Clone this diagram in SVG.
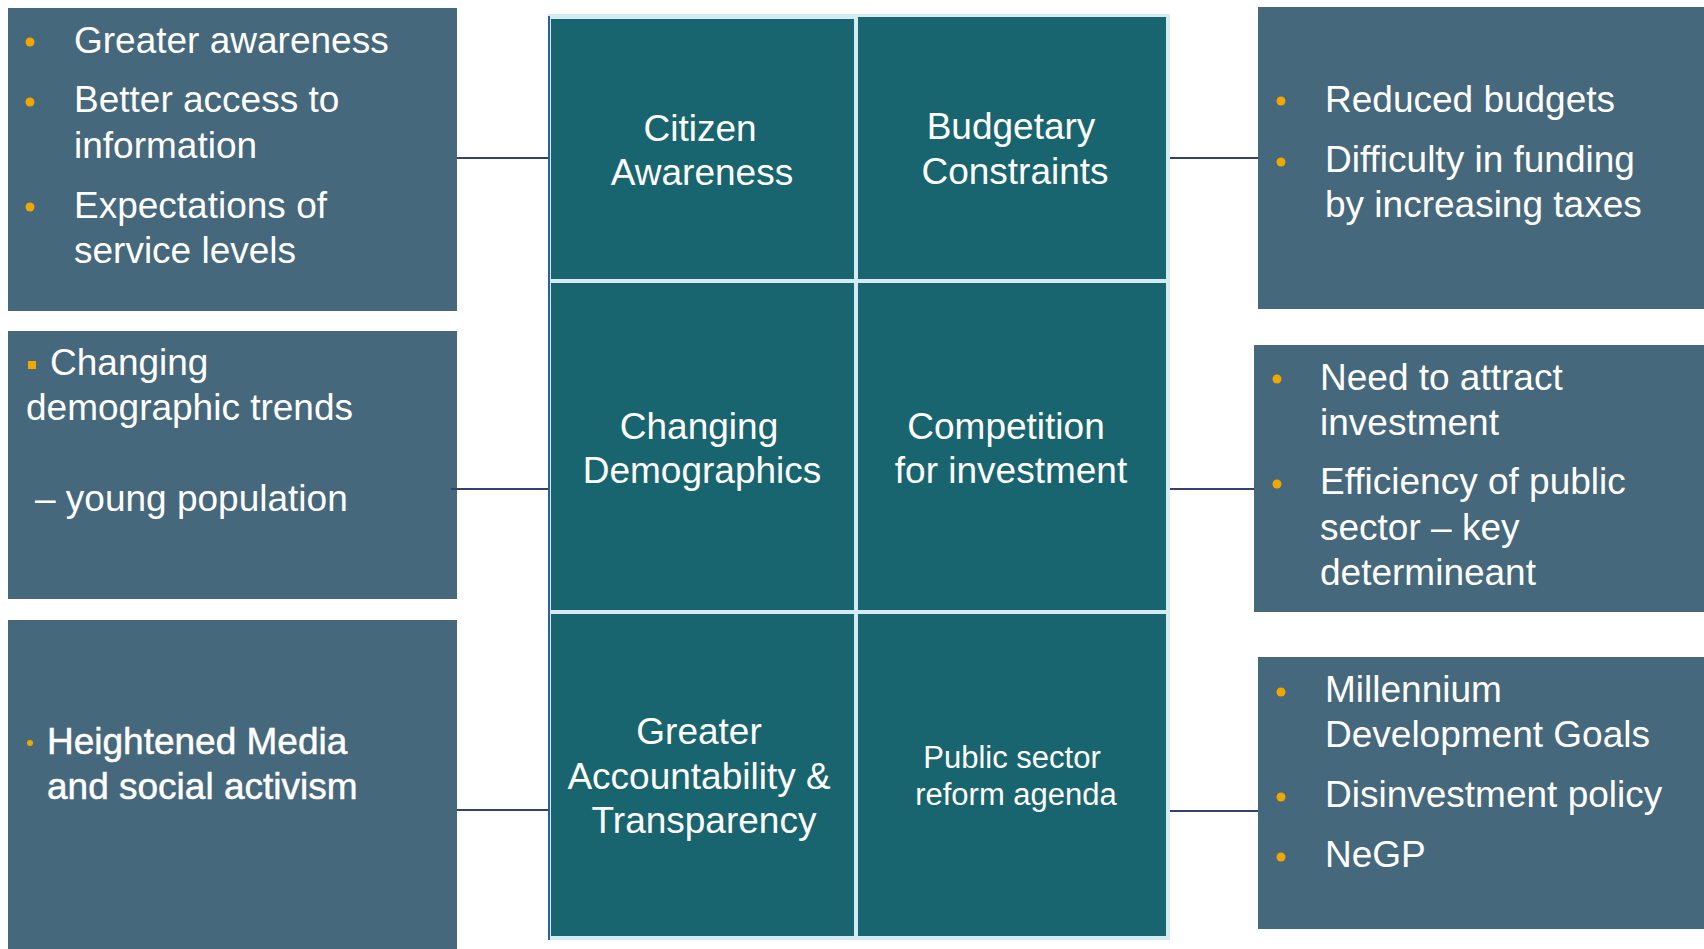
<svg xmlns="http://www.w3.org/2000/svg" width="1704" height="949" viewBox="0 0 1704 949">
<style>
.box{fill:#46687C}
.cell{fill:#19656F}
.t{font-family:"Liberation Sans",Arial,sans-serif;font-size:37px;fill:#FFFFFF}
.c{text-anchor:middle}
.s{font-size:31px}
.b{fill:#F0A800}
.conn{stroke:#34406E;stroke-width:2;fill:none}
</style>
<rect width="1704" height="949" fill="#FFFFFF"/>

<g id="left-1">
<rect class="box" x="8" y="8" width="449" height="303"/>
<circle class="b" cx="30" cy="42" r="4.5"/>
<circle class="b" cx="30" cy="102" r="4.5"/>
<circle class="b" cx="30" cy="207" r="4.5"/>
<text class="t" x="74" y="53">Greater awareness</text>
<text class="t" x="74" y="112">Better access to</text>
<text class="t" x="74" y="158">information</text>
<text class="t" x="74" y="218">Expectations of</text>
<text class="t" x="74" y="263">service levels</text>
</g>

<g id="left-2">
<rect class="box" x="8" y="331" width="449" height="268"/>
<rect class="b" x="28" y="361" width="8" height="8"/>
<text class="t" x="50" y="375">Changing</text>
<text class="t" x="26" y="420">demographic trends</text>
<text class="t" x="35" y="511">– young population</text>
</g>

<g id="left-3">
<rect class="box" x="8" y="620" width="449" height="329"/>
<circle class="b" cx="30" cy="743" r="3"/>
<text class="t" x="47" y="754" stroke="#FFFFFF" stroke-width="0.5">Heightened Media</text>
<text class="t" x="47" y="799" stroke="#FFFFFF" stroke-width="0.5">and social activism</text>
</g>

<g id="grid">
<rect x="548" y="14" width="622" height="926" fill="#D3ECF4"/>
<line x1="549" y1="16" x2="549" y2="940" stroke="#2E5EA8" stroke-width="2"/>
</g>

<g id="cell-citizen">
<rect class="cell" x="551" y="19" width="303" height="260"/>
<text class="t c" x="700" y="141">Citizen</text>
<text class="t c" x="702" y="185">Awareness</text>
</g>

<g id="cell-budget">
<rect class="cell" x="858" y="17" width="308" height="262"/>
<text class="t c" x="1011" y="139">Budgetary</text>
<text class="t c" x="1015" y="184">Constraints</text>
</g>

<g id="cell-demo">
<rect class="cell" x="551" y="283" width="303" height="327"/>
<text class="t c" x="699" y="439">Changing</text>
<text class="t c" x="702" y="483">Demographics</text>
</g>

<g id="cell-compet">
<rect class="cell" x="858" y="283" width="308" height="327"/>
<text class="t c" x="1006" y="439">Competition</text>
<text class="t c" x="1011" y="483">for investment</text>
</g>

<g id="cell-account">
<rect class="cell" x="551" y="614" width="303" height="322"/>
<text class="t c" x="699" y="744">Greater</text>
<text class="t c" x="699" y="789">Accountability &amp;</text>
<text class="t c" x="704" y="833">Transparency</text>
</g>

<g id="cell-reform">
<rect class="cell" x="858" y="614" width="308" height="322"/>
<text class="t c s" x="1012" y="768">Public sector</text>
<text class="t c s" x="1016" y="805">reform agenda</text>
</g>

<g id="right-1">
<rect class="box" x="1258" y="7" width="446" height="302"/>
<circle class="b" cx="1281" cy="101" r="4.5"/>
<circle class="b" cx="1281" cy="162" r="4.5"/>
<text class="t" x="1325" y="112">Reduced budgets</text>
<text class="t" x="1325" y="172">Difficulty in funding</text>
<text class="t" x="1325" y="217">by increasing taxes</text>
</g>

<g id="right-2">
<rect class="box" x="1254" y="345" width="450" height="267"/>
<circle class="b" cx="1277" cy="379" r="4.5"/>
<circle class="b" cx="1277" cy="484" r="4.5"/>
<text class="t" x="1320" y="390">Need to attract</text>
<text class="t" x="1320" y="435">investment</text>
<text class="t" x="1320" y="494">Efficiency of public</text>
<text class="t" x="1320" y="540">sector – key</text>
<text class="t" x="1320" y="585">determineant</text>
</g>

<g id="right-3">
<rect class="box" x="1258" y="657" width="446" height="272"/>
<circle class="b" cx="1281" cy="692" r="4.5"/>
<circle class="b" cx="1281" cy="797" r="4.5"/>
<circle class="b" cx="1281" cy="857" r="4.5"/>
<text class="t" x="1325" y="702">Millennium</text>
<text class="t" x="1325" y="747">Development Goals</text>
<text class="t" x="1325" y="807">Disinvestment policy</text>
<text class="t" x="1325" y="867">NeGP</text>
</g>

<g id="connectors">
<line class="conn" x1="457" y1="158" x2="548" y2="158"/>
<line class="conn" x1="451" y1="489" x2="548" y2="489"/>
<line class="conn" x1="457" y1="810" x2="548" y2="810"/>
<line class="conn" x1="1170" y1="158" x2="1258" y2="158"/>
<line class="conn" x1="1170" y1="489" x2="1254" y2="489"/>
<line class="conn" x1="1170" y1="811" x2="1258" y2="811"/>
</g>
</svg>
